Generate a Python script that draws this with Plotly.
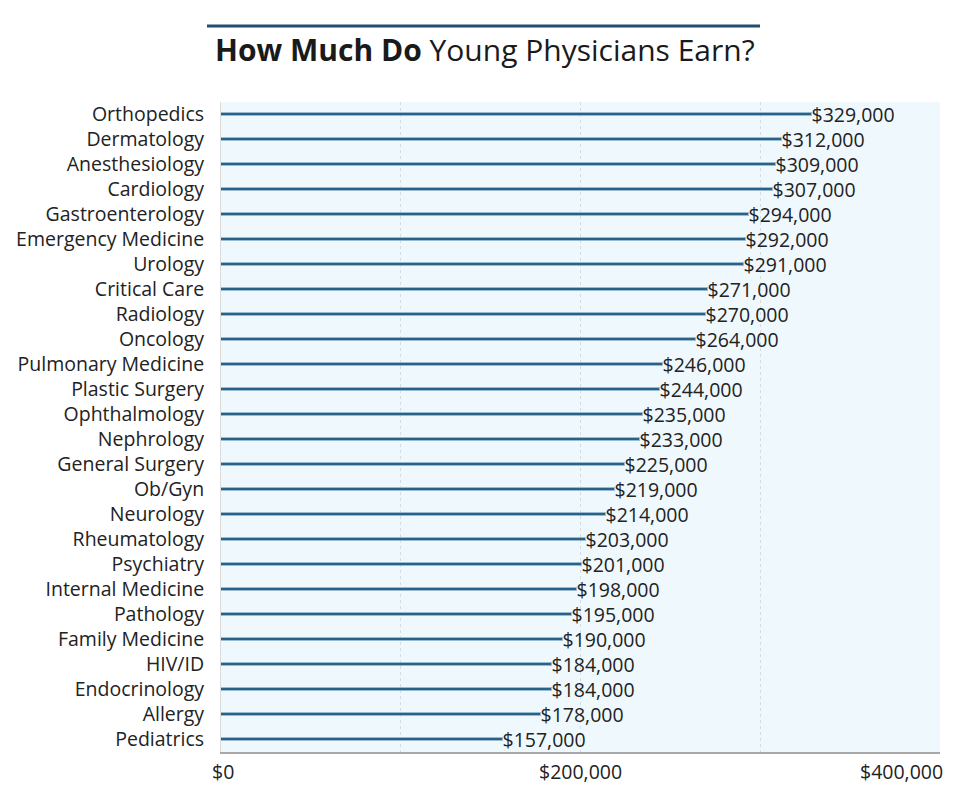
import plotly.graph_objects as go

specialties = [
    "Orthopedics", "Dermatology", "Anesthesiology", "Cardiology", "Gastroenterology",
    "Emergency Medicine", "Urology", "Critical Care", "Radiology", "Oncology",
    "Pulmonary Medicine", "Plastic Surgery", "Ophthalmology", "Nephrology",
    "General Surgery", "Ob/Gyn", "Neurology", "Rheumatology", "Psychiatry",
    "Internal Medicine", "Pathology", "Family Medicine", "HIV/ID", "Endocrinology",
    "Allergy", "Pediatrics",
]
earnings = [
    329000, 312000, 309000, 307000, 294000,
    292000, 291000, 271000, 270000, 264000,
    246000, 244000, 235000, 233000,
    225000, 219000, 214000, 203000, 201000,
    198000, 195000, 190000, 184000, 184000,
    178000, 157000,
]
x_tick_vals = [0, 200000, 400000]
x_tick_labels = ["$0", "$200,000", "$400,000"]
grid_vals = [100000, 200000, 300000]

FONT = "Open Sans, Lato, sans-serif"
TXT = "#222222"

fig = go.Figure()
fig.add_trace(go.Bar(
    x=earnings,
    y=specialties,
    orientation="h",
    width=0.15,
    marker=dict(color="#2a6287", line=dict(width=1, color="#98bbd1")),
    text=[f"${v:,}" for v in earnings],
    textposition="outside",
    constraintext="none",
    textfont=dict(size=19.5, color=TXT, family=FONT),
    cliponaxis=False,
    hovertemplate="%{y}: $%{x:,}<extra></extra>",
))

# x tick labels: last one right-aligned so it stays in frame
anchors = ["center", "center", "right"]
shifts = [2, 0, 5]
for v, lab, anc, sh in zip(x_tick_vals, x_tick_labels, anchors, shifts):
    fig.add_annotation(
        x=v, y=-0.03, xref="x", yref="paper", text=lab, showarrow=False,
        xanchor=anc, yanchor="middle", xshift=sh,
        font=dict(size=19.5, color=TXT, family=FONT),
    )

# title with rule above it
fig.add_annotation(
    x=0.367, y=1.08, xref="paper", yref="paper",
    text="<b>How Much Do</b> Young Physicians Earn?", showarrow=False,
    xanchor="center", yanchor="middle",
    font=dict(size=30, color="#1a1a1a", family=FONT),
)
fig.add_shape(
    type="line", xref="paper", yref="paper",
    x0=-0.0195, x1=0.7497, y0=1.117, y1=1.117,
    line=dict(color="#1f4e6e", width=3),
)

# page body adds ~8px offset, so margins are shifted to keep the plot in place
fig.update_layout(
    width=947, height=788,
    margin=dict(l=213, r=15, t=94, b=44),
    paper_bgcolor="white",
    plot_bgcolor="#eff8fd",
    showlegend=False,
    font=dict(family=FONT, color=TXT),
    bargap=0,
)
fig.update_xaxes(
    range=[0, 400000],
    tickvals=grid_vals, showticklabels=False,
    showgrid=True, gridcolor="#d4dde3", griddash="dot", gridwidth=1,
    showline=True, linecolor="#a8a8a8", linewidth=2,
    zeroline=False, fixedrange=True, automargin=False,
)
fig.update_yaxes(
    autorange="reversed",
    showgrid=False, zeroline=False,
    showline=True, linecolor="#dcdcdc", linewidth=1,
    tickfont=dict(size=19.5, color=TXT, family=FONT),
    ticks="outside", ticklen=12, tickcolor="rgba(0,0,0,0)",
    fixedrange=True, automargin=False,
)

fig.write_html("out.html")
